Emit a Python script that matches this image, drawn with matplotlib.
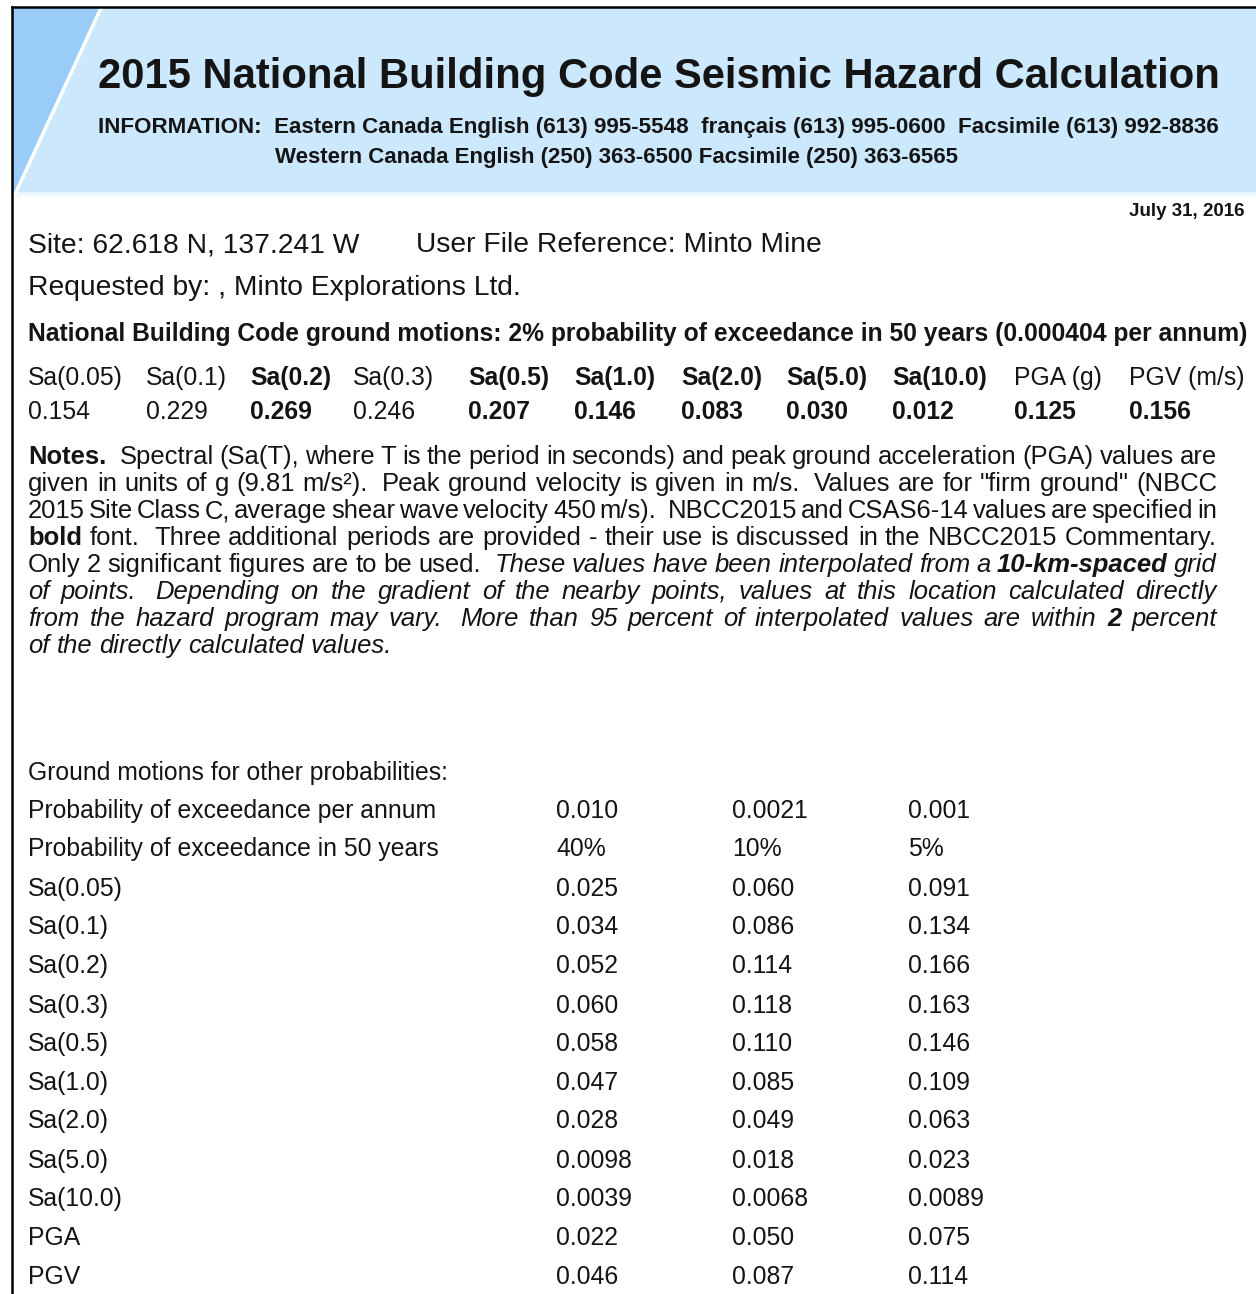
import re
import matplotlib
matplotlib.use("Agg")
import matplotlib.pyplot as plt
from matplotlib.patches import Polygon, Rectangle
import matplotlib.lines as mlines

# ---------------- data ----------------
title = "2015 National Building Code Seismic Hazard Calculation"
info_line1 = "INFORMATION:  Eastern Canada English (613) 995-5548  fran\u00e7ais (613) 995-0600  Facsimile (613) 992-8836"
info_line2 = "Western Canada English (250) 363-6500 Facsimile (250) 363-6565"
date_text = "July 31, 2016"
site_text = "Site: 62.618 N, 137.241 W"
ref_text = "User File Reference: Minto Mine"
requested_text = "Requested by: , Minto Explorations Ltd."
nbc_heading = "National Building Code ground motions: 2% probability of exceedance in 50 years (0.000404 per annum)"

nbc_labels = ["Sa(0.05)", "Sa(0.1)", "Sa(0.2)", "Sa(0.3)", "Sa(0.5)", "Sa(1.0)",
              "Sa(2.0)", "Sa(5.0)", "Sa(10.0)", "PGA (g)", "PGV (m/s)"]
nbc_values = [0.154, 0.229, 0.269, 0.246, 0.207, 0.146, 0.083, 0.030, 0.012, 0.125, 0.156]
nbc_label_bold = [False, False, True, False, True, True, True, True, True, False, False]
nbc_value_bold = [False, False, True, False, True, True, True, True, True, True, True]

other_heading = "Ground motions for other probabilities:"
prob_per_annum = ["0.010", "0.0021", "0.001"]
prob_50yr = ["40%", "10%", "5%"]
other_labels = ["Sa(0.05)", "Sa(0.1)", "Sa(0.2)", "Sa(0.3)", "Sa(0.5)", "Sa(1.0)",
                "Sa(2.0)", "Sa(5.0)", "Sa(10.0)", "PGA", "PGV"]
other_40 = ["0.025", "0.034", "0.052", "0.060", "0.058", "0.047", "0.028", "0.0098", "0.0039", "0.022", "0.046"]
other_10 = ["0.060", "0.086", "0.114", "0.118", "0.110", "0.085", "0.049", "0.018", "0.0068", "0.050", "0.087"]
other_5 = ["0.091", "0.134", "0.166", "0.163", "0.146", "0.109", "0.063", "0.023", "0.0089", "0.075", "0.114"]

# notes: list of lines, each a list of (style, text); style: r, b, i, bi
notes_lines = [
    [("b", "Notes."), ("r", "  Spectral (Sa(T), where T is the period in seconds) and peak ground acceleration (PGA) values are")],
    [("r", "given in units of g (9.81 m/s\u00b2).  Peak ground velocity is given in m/s.  Values are for \"firm ground\" (NBCC")],
    [("r", "2015 Site Class C, average shear wave velocity 450 m/s).  NBCC2015 and CSAS6-14 values are specified in")],
    [("b", "bold"), ("r", " font.  Three additional periods are provided - their use is discussed in the NBCC2015 Commentary.")],
    [("r", "Only 2 significant figures are to be used.  "), ("i", "These values have been interpolated from a "),
     ("bi", "10-km-spaced"), ("i", " grid")],
    [("i", "of points.  Depending on the gradient of the nearby points, values at this location calculated directly")],
    [("i", "from the hazard program may vary.  More than 95 percent of interpolated values are within "),
     ("bi", "2"), ("i", " percent")],
    [("i", "of the directly calculated values.")],
]

# ---------------- figure ----------------
W, H = 1256, 1294
fig = plt.figure(figsize=(W / 100, H / 100), dpi=100)
ax = fig.add_axes([0, 0, 1, 1])
ax.set_xlim(0, W)
ax.set_ylim(H, 0)
ax.axis("off")
renderer = fig.canvas.get_renderer()

FONT = "Liberation Sans"
TXT = "#141414"

# header band
ax.add_patch(Rectangle((13, 8), W - 13, 184, facecolor="#cce8fc", edgecolor="none", zorder=0))
for k in range(6):
    ax.add_patch(Rectangle((13, 192 + k), W - 13, 1, facecolor="#cce8fc", alpha=0.5 - 0.08 * k,
                           edgecolor="none", zorder=0))
ax.add_patch(Polygon([(13, 8), (101, 8), (16, 192), (13, 192)], closed=True,
                     facecolor="#99ccf8", edgecolor="none", zorder=1))
ax.add_line(mlines.Line2D([101, 16], [8, 192], color="white", lw=2.5, zorder=2))

# frame
ax.add_line(mlines.Line2D([12, 12], [7, H], color="black", lw=1.8, zorder=3))
ax.add_line(mlines.Line2D([12, W], [7, 7], color="black", lw=1.8, zorder=3))


def style_kw(style):
    return dict(fontweight="bold" if "b" in style else "normal",
                fontstyle="italic" if "i" in style else "normal")


def width_of(t):
    return t.get_window_extent(renderer).width


def put(s, x, y, size, style="r", ha="left"):
    return ax.text(x, y, s, fontsize=size, family=FONT, color=TXT, ha=ha, va="baseline",
                   **style_kw(style), zorder=5)


def fit(s, x0, x1, y, style="r", ha="left"):
    t = put(s, x0 if ha == "left" else x1, y, 20, style, ha)
    w = width_of(t)
    t.set_fontsize(20 * (x1 - x0) / w)
    return t


# header texts
fit(title, 98, 1216, 88, "b")
fit(info_line1, 98, 1218, 133, "b")
fit(info_line2, 275, 962, 163, "b")
fit(date_text, 1129, 1245, 216, "b")

SIZE_MAIN = 20.3
put(site_text, 28, 252, SIZE_MAIN)
put(ref_text, 416, 252, SIZE_MAIN)
put(requested_text, 28, 295, SIZE_MAIN)
fit(nbc_heading, 28, 1246, 341, "b")

SIZE_TAB = 17.8
nbc_x = [28, 146, 250, 353, 468, 574, 681, 786, 892, 1014, 1129]
for lab, val, lb, vb, x in zip(nbc_labels, nbc_values, nbc_label_bold, nbc_value_bold, nbc_x):
    put(lab, x, 385, SIZE_TAB, "b" if lb else "r")
    put(f"{val:.3f}", x, 419, SIZE_TAB, "b" if vb else "r")

# ---------------- notes (justified) ----------------
NOTE_X0, NOTE_X1 = 28, 1217


def tokens(segs):
    items = []
    for st, txt in segs:
        for tok in re.split(r"(\s+)", txt):
            if tok == "":
                continue
            if tok.isspace():
                items.append(("gap", len(tok)))
            else:
                items.append(("word", (tok, st)))
    return items


def natural_width(segs, size):
    tot = 0
    tmp = []
    for kind, v in tokens(segs):
        if kind == "gap":
            t = put("a" + " " * v + "a", 0, -200, size)
            t2 = put("aa", 0, -200, size)
            tot += width_of(t) - width_of(t2)
            tmp += [t, t2]
        else:
            t = put(v[0], 0, -200, size, v[1])
            tot += width_of(t)
            tmp.append(t)
    for t in tmp:
        t.remove()
    return tot


ratios = [(NOTE_X1 - NOTE_X0) / natural_width(segs, 20) for segs in notes_lines[:-1]]
last_ratio = (404 - NOTE_X0) / natural_width(notes_lines[-1], 20)
SIZE_NOTES = 20 * 0.5 * (min(ratios) + last_ratio)

sp1 = put("a a", 0, -200, SIZE_NOTES)
sp0 = put("aa", 0, -200, SIZE_NOTES)
SPACE_W = width_of(sp1) - width_of(sp0)
sp1.remove()
sp0.remove()

for li, segs in enumerate(notes_lines):
    y = 464 + 27 * li
    objs, gaps = [], []
    pending_gap = 0
    for kind, v in tokens(segs):
        if kind == "gap":
            pending_gap += v
        else:
            t = put(v[0], 0, y, SIZE_NOTES, v[1])
            if objs:
                gaps.append(pending_gap)
            pending_gap = 0
            objs.append((t, width_of(t)))
    total_words = sum(w for _, w in objs)
    nat_gaps = [g * SPACE_W for g in gaps]
    justify = li != len(notes_lines) - 1
    n_real = sum(1 for g in gaps if g > 0)
    extra = 0
    if justify and n_real:
        extra = (NOTE_X1 - NOTE_X0 - total_words - sum(nat_gaps)) / n_real
        extra = max(extra, -0.45 * SPACE_W)
    x = NOTE_X0
    for k, (t, w) in enumerate(objs):
        t.set_x(x)
        x += w
        if k < len(gaps):
            x += nat_gaps[k] + (extra if gaps[k] > 0 else 0)

# ---------------- other probabilities table ----------------
put(other_heading, 28, 780, SIZE_TAB)
col_x = [556, 732, 908]
row_y = [818, 856, 896, 934, 973, 1013, 1051, 1090, 1128, 1168, 1206, 1245, 1284]
put("Probability of exceedance per annum", 28, row_y[0], SIZE_TAB)
put("Probability of exceedance in 50 years", 28, row_y[1], SIZE_TAB)
for cx, v in zip(col_x, prob_per_annum):
    put(v, cx, row_y[0], SIZE_TAB)
for cx, v in zip(col_x, prob_50yr):
    put(v, cx, row_y[1], SIZE_TAB)
for i, lab in enumerate(other_labels):
    y = row_y[i + 2]
    put(lab, 28, y, SIZE_TAB)
    for cx, col in zip(col_x, (other_40, other_10, other_5)):
        put(col[i], cx, y, SIZE_TAB)

fig.savefig("out.png", dpi=100, facecolor="white")
